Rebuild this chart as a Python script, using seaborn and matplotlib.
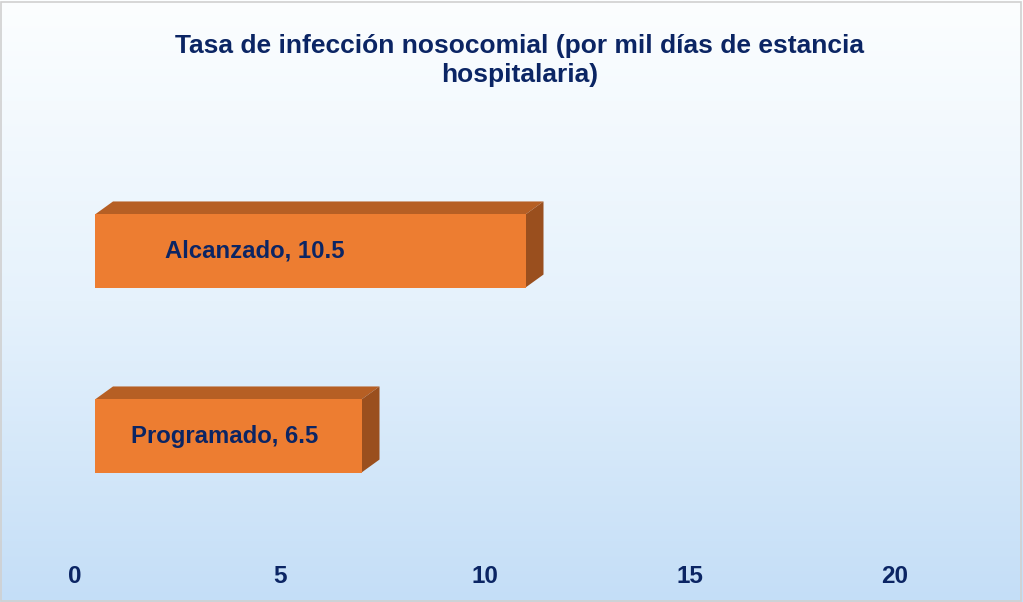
import numpy as np
import pandas as pd
import matplotlib
matplotlib.use("Agg")
import matplotlib.pyplot as plt
from matplotlib.patches import Polygon, Rectangle
from matplotlib.colors import LinearSegmentedColormap
import matplotlib.transforms as mtransforms
import seaborn as sns

# Data
categorias = ["Alcanzado", "Programado"]
valores = [10.5, 6.5]
ticks_x = [0, 5, 10, 15, 20]
titulo = "Tasa de infección nosocomial (por mil días de estancia\nhospitalaria)"

sns.set_theme(style="white")
plt.rcParams["font.family"] = ["Liberation Sans", "DejaVu Sans"]

NAVY = "#0B2564"
FRONT = "#ED7D31"
TOP = "#B65F24"
SIDE = "#9A4F1E"

fig = plt.figure(figsize=(10.23, 6.02), dpi=100)

# Background: vertical gradient white -> light blue
bg = fig.add_axes([0, 0, 1, 1], zorder=-10)
cmap = LinearSegmentedColormap.from_list("fondo", ["#FCFEFF", "#E6F2FC", "#C4DEF7"])
grad = np.linspace(0, 1, 256).reshape(-1, 1)
bg.imshow(grad, aspect="auto", cmap=cmap, extent=[0, 1, 0, 1], origin="upper")
bg.add_patch(Rectangle((0.001, 0.002), 0.997, 0.995, fill=False,
                       edgecolor="#D0D0D0", lw=1.2, transform=bg.transAxes))
bg.set_axis_off()

# Plot area
W, H = 1023, 602
left_px, right_px = 75, 75 + 22.6 * 41
top_px, bottom_px = 140, 547
ax = fig.add_axes([left_px / W, 1 - bottom_px / H,
                   (right_px - left_px) / W, (bottom_px - top_px) / H])
ax.patch.set_alpha(0)

df = pd.DataFrame({"categoria": categorias, "valor": valores})
sns.barplot(data=df, y="categoria", x="valor", orient="h", color=FRONT,
            width=0.395, saturation=1, ax=ax, zorder=3)

ax.set_xlim(0, 22.6)
ax.set_ylim(1.6, -0.6)
ax.set_xticks(ticks_x)
ax.set_xticklabels([str(t) for t in ticks_x], fontsize=17.5, fontweight="bold", color=NAVY)
ax.tick_params(axis="x", length=0, pad=13)
ax.set_yticks([])
ax.set_xlabel("")
ax.set_ylabel("")
for s in ax.spines.values():
    s.set_visible(False)

# 3D look: front face shifted by the projection, plus top and side faces
shift = mtransforms.ScaledTranslation(20 / 100, 0, fig.dpi_scale_trans)
depth_dx, depth_dy = 18, 13  # pixels
inv = ax.transData.inverted()
o = ax.transData.transform((0, 0))
d = inv.transform(o + np.array([depth_dx, depth_dy]))
ddx, ddy = d[0], d[1]

label_x = [3.9, 3.17]
for bar, cat, val, lx in zip(ax.patches, categorias, valores, label_x):
    x0 = bar.get_x()
    x1 = x0 + bar.get_width()
    ya = bar.get_y()
    yb = ya + bar.get_height()
    ytop, ybot = min(ya, yb), max(ya, yb)  # ytop is visually upper (inverted axis)
    bar.set_transform(ax.transData + shift)
    bar.set_edgecolor("none")
    top = Polygon([(x0, ytop), (x1, ytop), (x1 + ddx, ytop + ddy), (x0 + ddx, ytop + ddy)],
                  closed=True, facecolor=TOP, edgecolor="none", zorder=2,
                  transform=ax.transData + shift)
    side = Polygon([(x1, ytop), (x1 + ddx, ytop + ddy), (x1 + ddx, ybot + ddy), (x1, ybot)],
                   closed=True, facecolor=SIDE, edgecolor="none", zorder=2,
                   transform=ax.transData + shift)
    ax.add_patch(top)
    ax.add_patch(side)
    ax.text(lx, (ytop + ybot) / 2, f"{cat}, {val}", ha="center", va="center",
            fontsize=17.2, fontweight="bold", color=NAVY, zorder=5,
            transform=ax.transData + shift)

fig.text(0.508, 0.9, titulo, ha="center", va="center", fontsize=19,
         fontweight="bold", color=NAVY, linespacing=1.28)

fig.savefig("out.png", dpi=100)
